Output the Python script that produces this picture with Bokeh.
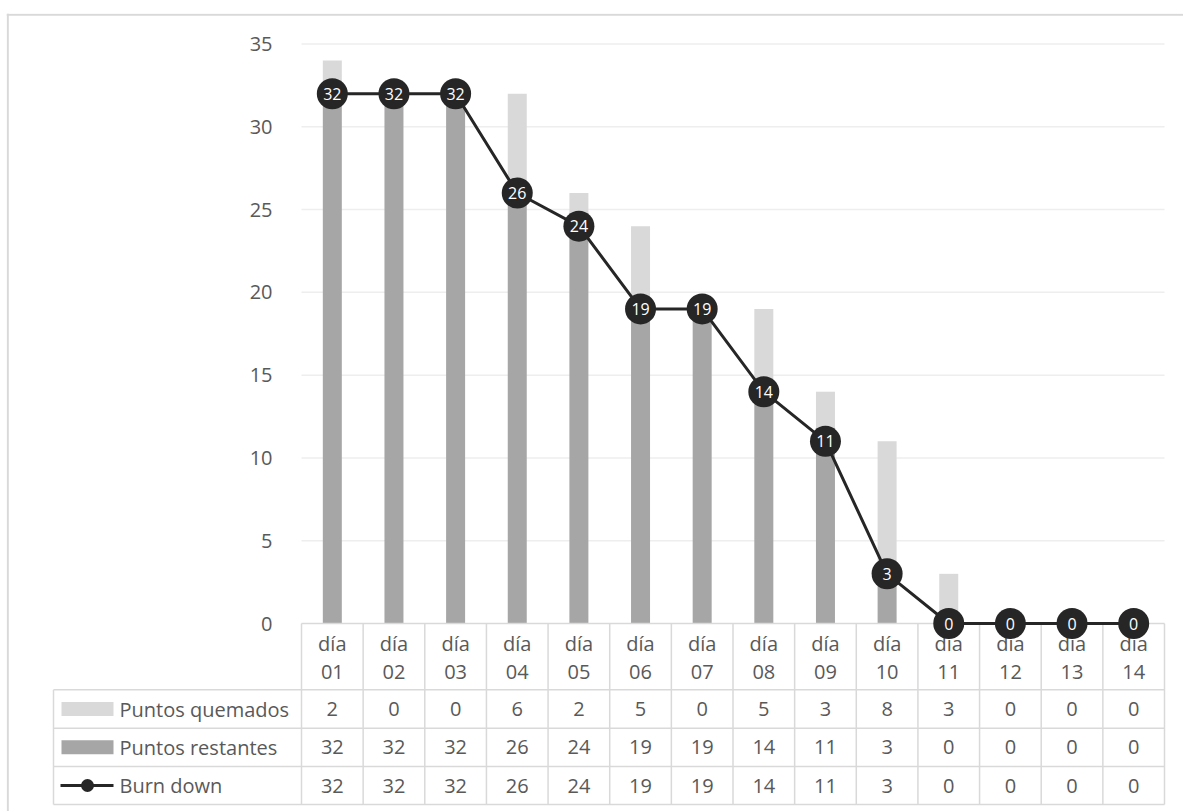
from bokeh.plotting import figure
from bokeh.models import ColumnDataSource, FixedTicker
from bokeh.core.properties import value
from bokeh.embed import file_html
from bokeh.resources import INLINE

# ---------------- data ----------------
days = ["01", "02", "03", "04", "05", "06", "07", "08", "09", "10", "11", "12", "13", "14"]
quemados = [2, 0, 0, 6, 2, 5, 0, 5, 3, 8, 3, 0, 0, 0]
restantes = [32, 32, 32, 26, 24, 19, 19, 14, 11, 3, 0, 0, 0, 0]
burn_down = [32, 32, 32, 26, 24, 19, 19, 14, 11, 3, 0, 0, 0, 0]
series_names = ["Puntos quemados", "Puntos restantes", "Burn down"]
y_ticks = [0, 5, 10, 15, 20, 25, 30, 35]

# ---------------- layout constants (pixels) ----------------
W, H = 1183, 811
FL, FR, FT, FB = 6, 1183, 13, 811          # frame (outer box)
PX0, PX1 = 301, 1164                          # plot area left/right
PY0, PY35 = 623, 43.5                         # pixel of y=0 and y=35
N = len(days)
CW = (PX1 - PX0) / N
PPU = (PY0 - PY35) / 35.0

def px2x(px):
    return (px - PX0) / CW + 0.5

def py2y(py):
    return (PY0 - py) / PPU

TXT = "#595959"
FONT = "Open Sans"
GRID = "#d9d9d9"

p = figure(width=W, height=H, output_backend="svg", toolbar_location=None,
           x_range=(px2x(FL), px2x(FR)), y_range=(py2y(FB), py2y(FT)),
           x_axis_location=None, min_border_left=FL, min_border_right=W - FR,
           min_border_top=FT, min_border_bottom=H - FB)
p.outline_line_color = None
p.xgrid.visible = False
p.ygrid.visible = False
p.background_fill_color = "white"
p.border_fill_color = "white"

# outer box (top and left edges visible)
p.segment(x0=[px2x(FL)], x1=[px2x(FR)], y0=[py2y(14.3)], y1=[py2y(14.3)], line_color=GRID, line_width=2)
p.segment(x0=[px2x(7.3)], x1=[px2x(7.3)], y0=[py2y(FT)], y1=[py2y(FB)], line_color=GRID, line_width=2)

# y axis placed at the plot-area left edge
ax = p.yaxis[0]
ax.fixed_location = px2x(PX0)
ax.ticker = FixedTicker(ticks=y_ticks)
ax.bounds = (0, 35)
ax.axis_line_color = None
ax.major_tick_line_color = None
ax.minor_tick_line_color = None
ax.major_label_standoff = 23
ax.major_label_text_font = FONT
ax.major_label_text_font_size = "20px"
ax.major_label_text_color = TXT

# gridlines
gy = [t for t in y_ticks if t > 0]
p.segment(x0=[px2x(PX0)] * len(gy), x1=[px2x(PX1)] * len(gy), y0=gy, y1=gy,
          line_color="#eeeeee", line_width=1.5)

xs = list(range(1, N + 1))
src = ColumnDataSource(dict(
    x=xs, q=quemados, r=restantes, top=[a + b for a, b in zip(restantes, quemados)],
    b=burn_down, lbl=[str(v) for v in burn_down],
))

bw = 19 / CW
p.vbar(x="x", bottom=0, top="r", width=bw, source=src, fill_color="#a6a6a6", line_color=None)
p.vbar(x="x", bottom="r", top="top", width=bw, source=src, fill_color="#d9d9d9", line_color=None)

# ---------------- data table ----------------
row_lines = [689.3, 727.7, 766, 804]
h_x0 = [px2x(PX0)] + [px2x(53)] * len(row_lines)
h_y = [PY0] + row_lines
p.segment(x0=h_x0, x1=[px2x(PX1)] * len(h_y), y0=[py2y(v) for v in h_y], y1=[py2y(v) for v in h_y],
          line_color=GRID, line_width=1.5)
vx = [px2x(PX0 + k * CW) for k in range(N + 1)] + [px2x(53)]
vy0 = [py2y(PY0)] * (N + 1) + [py2y(689.3)]
p.segment(x0=vx, x1=vx, y0=vy0, y1=[py2y(804)] * len(vx), line_color=GRID, line_width=1.5)

# header labels
p.text(x=xs, y=[py2y(642.5)] * N, text=["día"] * N, text_font=value(FONT), text_font_size="20px",
       text_color=TXT, text_align="center", text_baseline="middle")
p.text(x=xs, y=[py2y(671.5)] * N, text=days, text_font=value(FONT), text_font_size="20px",
       text_color=TXT, text_align="center", text_baseline="middle")

row_centers = [708.5, 746.8, 785]
for vals, yc in zip([quemados, restantes, burn_down], row_centers):
    p.text(x=xs, y=[py2y(yc)] * N, text=[str(v) for v in vals], text_font=value(FONT),
           text_font_size="20px", text_color=TXT, text_align="center", text_baseline="middle")

# legend keys in table
p.text(x=[px2x(119)] * 3, y=[py2y(v) for v in row_centers], text=series_names, text_font=value(FONT),
       text_font_size="20px", text_color=TXT, text_align="left", text_baseline="middle")
p.quad(left=[px2x(61)] * 2, right=[px2x(113)] * 2,
       top=[py2y(row_centers[0] - 7), py2y(row_centers[1] - 7)],
       bottom=[py2y(row_centers[0] + 7), py2y(row_centers[1] + 7)],
       fill_color=["#d9d9d9", "#a6a6a6"], line_color=None)
p.line(x=[px2x(60), px2x(113)], y=[py2y(row_centers[2])] * 2, line_color="#262626", line_width=3)
p.scatter(x=[px2x(87)], y=[py2y(row_centers[2])], size=13, fill_color="#262626", line_color=None)

# ---------------- burn down line ----------------
p.line(x="x", y="b", source=src, line_color="#262626", line_width=3)
p.scatter(x="x", y="b", source=src, size=31, fill_color="#262626", line_color=None)
p.text(x="x", y="b", text="lbl", source=src, text_font=value(FONT), text_font_size="16px",
       text_color="white", text_align="center", text_baseline="middle")

open("out.html", "w").write(file_html(p, INLINE))
